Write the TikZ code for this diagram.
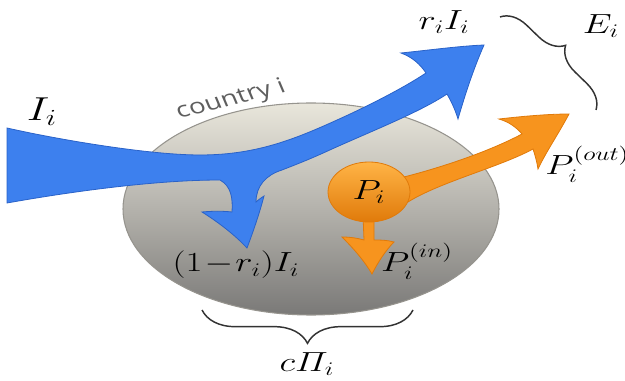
\documentclass[tikz,border=0pt]{standalone}
\usepackage{amsmath}
\usepackage{fontspec}
\newfontfamily\cfont{Open Sans}
\usetikzlibrary{shapes.geometric,decorations.pathreplacing}
\definecolor{blueA}{HTML}{3D80EE}
\definecolor{blueD}{HTML}{2A62C8}
\definecolor{orA}{HTML}{F7941E}
\definecolor{orL}{HTML}{FFB446}
\definecolor{orD}{HTML}{E07A0A}
\definecolor{elTop}{HTML}{E9E6DB}
\definecolor{elMid}{HTML}{B4B2AC}
\definecolor{elBot}{HTML}{7A7977}
\definecolor{elEdge}{HTML}{96948E}
\definecolor{txtGray}{HTML}{5E5E5E}
\definecolor{brc}{HTML}{333333}
\begin{document}
\begin{tikzpicture}[x=0.75pt,y=-0.75pt,
  lbl/.style={xscale=1.33,inner sep=0pt,font=\fontsize{21}{24}\selectfont},
  bluearrow/.style={fill=blueA,draw=blueD,line width=0.6pt},
  orarrow/.style={fill=orA,draw=orD,line width=0.6pt},
  bracestyle/.style={draw=brc,line width=1.1pt,decorate}
]
\useasboundingbox (0,0) rectangle (625,381);
% country ellipse
\node[ellipse,minimum width=282pt,minimum height=159pt,inner sep=0pt,
  top color=elTop,bottom color=elBot,middle color=elMid,draw=elEdge,line width=0.8pt] (country) at (311,209) {};
% country label
\node[xscale=1.3,rotate=18,text=txtGray,font=\cfont\fontsize{16}{19}\selectfont,inner sep=0pt] (clabel) at (231,100) {country i};
% blue arrow
\path[bluearrow] (7,128)
  .. controls (60,140) and (150,155) .. (200,155)
  .. controls (260,155) and (300,137) .. (348,115)
  .. controls (380,100) and (408,85) .. (426,73)
  .. controls (420,64) and (412,57) .. (401,53)
  .. controls (430,50) and (460,46) .. (484,45)
  .. controls (473,70) and (465,95) .. (458,119)
  .. controls (455,109) and (451,101) .. (447,94)
  .. controls (420,112) and (372,131) .. (332,149)
  .. controls (306,161) and (292,166) .. (282,170)
  .. controls (266,175) and (256,186) .. (256,202)
  .. controls (258,200) and (261,198) .. (264,196)
  .. controls (259,215) and (253,232) .. (247,248)
  .. controls (235,235) and (218,222) .. (202,212)
  .. controls (213,211) and (223,211) .. (232,212)
  .. controls (233,198) and (231,186) .. (220,180)
  .. controls (160,180) and (80,190) .. (7,203)
  -- cycle;
% orange arrows
\path[orarrow] (400,178)
  .. controls (440,168) and (488,152) .. (522,134)
  .. controls (516,127) and (509,122) .. (499,119)
  .. controls (525,116) and (550,114) .. (569,114)
  .. controls (559,133) and (546,152) .. (538,169)
  .. controls (537,162) and (535,155) .. (533,149)
  .. controls (500,167) and (440,182) .. (408,202)
  -- cycle;
\path[orarrow] (363,215) -- (364,240)
  .. controls (357,238) and (350,237) .. (342,237)
  .. controls (355,250) and (365,262) .. (372,274)
  .. controls (378,262) and (386,250) .. (394,242)
  .. controls (387,240) and (380,240) .. (374,240)
  -- (374,215) -- cycle;
\node[ellipse,minimum width=61.5pt,minimum height=45pt,inner sep=0pt,
  top color=orL,bottom color=orD,draw=orD,line width=0.6pt] (pc) at (369,192) {};
\node[lbl,font=\fontsize{22}{24}\selectfont] (plab) at (pc) {$P_i$};
% labels
\node[lbl,font=\fontsize{23}{26}\selectfont] (Ii) at (42,112) {$I_i$};
\node[lbl] (rIi) at (444,22) {$r_iI_i$};
\node[lbl] (Ei) at (601,26) {$E_i$};
\node[lbl,font=\fontsize{20}{24}\selectfont] (rest) at (236,265) {$(1\!-\!r_i)I_i$};
\node[lbl,font=\fontsize{20}{24}\selectfont] (pin) at (417,261) {$P_i^{(in)}$};
\node[lbl,anchor=west] (pout) at (545,164) {$P_i^{(out)}$};
\node[lbl] (cpi) at (307,364) {$c\varPi_i$};
% braces
\coordinate (ba) at (413,310);
\coordinate (bb) at (202,310);
\draw[bracestyle,decoration={brace,amplitude=25pt}] (ba) -- (bb);
\coordinate (ea) at (500,17);
\coordinate (eb) at (596,110);
\draw[bracestyle,decoration={brace,amplitude=19pt}] (ea) -- (eb);
\end{tikzpicture}
\end{document}
